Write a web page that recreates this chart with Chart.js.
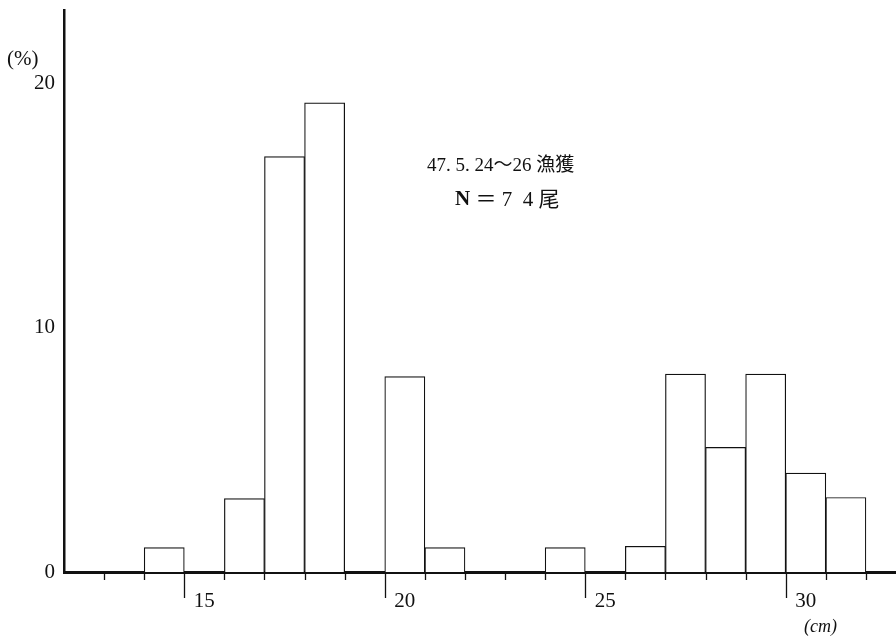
<!DOCTYPE html>
<html>
<head>
<meta charset="utf-8">
<script src="https://cdn.jsdelivr.net/npm/chart.js@4"></script>
<style>
  html, body { margin: 0; padding: 0; background: #fff; }
  #wrap { width: 896px; height: 642px; }
</style>
</head>
<body>
<div id="wrap"><canvas id="lengthChart" width="896" height="642"></canvas></div>
<script>
// length classes (lower edge of each 1 cm bin) and share of catch (%)
const binStart = [14, 16, 17, 18, 20, 21, 24, 26, 27, 28, 29, 30, 31];
const percent = [1.0, 3.0, 17.0, 19.2, 8.0, 1.0, 1.0, 1.05, 8.1, 5.1, 8.1, 4.05, 3.05];
const xLabels = [15, 20, 25, 30];
const yLabels = [0, 10, 20];
const noteLines = ['47. 5. 24～26 漁獲', '＝ 7  4 尾'];

const serif = '"Liberation Serif", "DejaVu Serif", "Noto Sans CJK JP", serif';

// draws the short tick marks under the x axis, plus axis unit labels and the note
const extras = {
    id: 'extras',
    afterDraw(chart) {
        const ctx = chart.ctx;
        const x = chart.scales.x;
        const y = chart.scales.y;
        const base = chart.chartArea.bottom;
        ctx.save();
        ctx.strokeStyle = '#111';
        ctx.lineWidth = 1.3;
        for (let v = Math.ceil(x.min) + 1; v <= x.max; v++) {
            const px = Math.round(x.getPixelForValue(v)) + 0.5;
            const len = xLabels.includes(v) ? 26 : 8;
            ctx.beginPath();
            ctx.moveTo(px, base);
            ctx.lineTo(px, base + len);
            ctx.stroke();
        }
        ctx.fillStyle = '#111';
        ctx.textBaseline = 'middle';
        ctx.textAlign = 'left';
        ctx.font = '21px ' + serif;
        ctx.fillText('(%)', 7, y.getPixelForValue(20) - 24);
        ctx.font = 'italic 18px ' + serif;
        ctx.fillText('(cm)', 804, 627);

        ctx.font = '19px ' + serif;
        ctx.fillText(noteLines[0], 427, 166);
        ctx.font = 'bold 21px ' + serif;
        ctx.fillText('N', 455, 200);
        const nw = ctx.measureText('N ').width;
        ctx.font = '21px ' + serif;
        ctx.fillText(noteLines[1], 455 + nw, 200);
        ctx.restore();
    }
};

const ctx = document.getElementById('lengthChart').getContext('2d');
new Chart(ctx, {
    type: 'bar',
    data: {
        datasets: [{
            data: binStart.map((s, i) => ({ x: s + 0.5, y: percent[i] })),
            backgroundColor: '#ffffff',
            borderColor: '#111111',
            borderWidth: 1.2,
            borderSkipped: 'bottom',
            barPercentage: 1.0,
            categoryPercentage: 1.0
        }]
    },
    options: {
        responsive: false,
        animation: false,
        layout: { padding: { top: 10, right: 0, left: 0, bottom: 0 } },
        plugins: {
            legend: { display: false },
            tooltip: { enabled: false }
        },
        scales: {
            x: {
                type: 'linear',
                offset: false,
                min: 12,
                max: 32.75,
                afterBuildTicks: s => { s.ticks = s.ticks.filter(t => Number.isInteger(t.value)); },
                afterFit: s => { s.height = 70; s.paddingLeft = 0; s.paddingRight = 0; },
                grid: { display: false, drawTicks: false },
                border: { display: true, color: '#111', width: 3 },
                ticks: {
                    stepSize: 1,
                    autoSkip: false,
                    maxRotation: 0,
                    padding: 17,
                    labelOffset: 20,
                    color: '#111',
                    font: { family: serif, size: 21 },
                    callback: v => xLabels.includes(v) ? String(v) : ''
                }
            },
            y: {
                min: 0,
                max: 23,
                afterBuildTicks: s => { s.ticks = s.ticks.filter(t => yLabels.includes(t.value)); },
                afterFit: s => { s.width = 64; s.paddingTop = 0; s.paddingBottom = 0; },
                grid: { display: false, drawTicks: false },
                border: { display: true, color: '#111', width: 2.5 },
                ticks: {
                    stepSize: 10,
                    padding: 9,
                    color: '#111',
                    font: { family: serif, size: 21 }
                }
            }
        }
    },
    plugins: [extras]
});
</script>
</body>
</html>
